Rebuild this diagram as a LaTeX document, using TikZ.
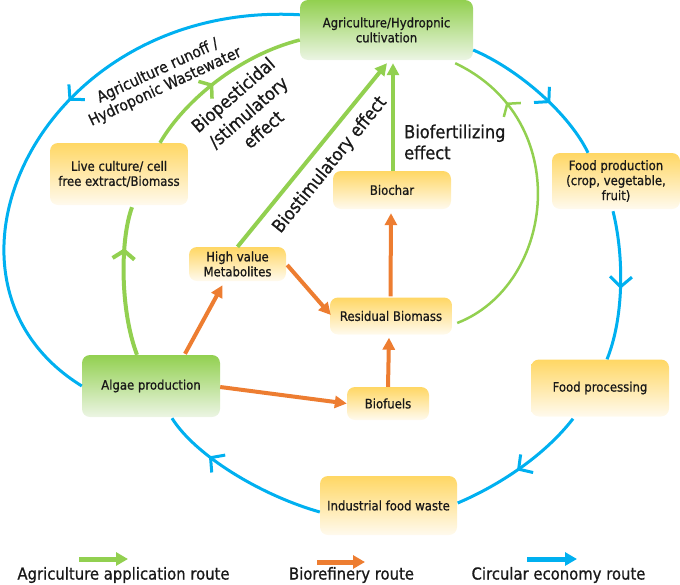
\documentclass[tikz,border=0pt]{standalone}
\usepackage{fontspec}
\setmainfont{DejaVu Sans Condensed}[FakeBold=0.8]
\usetikzlibrary{arrows.meta,decorations.markings,calc}
\definecolor{cgreen}{RGB}{146,208,80}
\definecolor{corange}{RGB}{237,125,49}
\definecolor{cblue}{RGB}{0,176,240}
\definecolor{ytop}{RGB}{255,215,100}
\definecolor{ybot}{RGB}{255,250,238}
\definecolor{gtop}{RGB}{146,208,80}
\definecolor{gbot}{RGB}{236,245,228}
\begin{document}
\begin{tikzpicture}[x=1pt,y=-1pt,
  box/.style={rounded corners=8pt, align=center, inner sep=0pt, text=black!90,
    font=\fontsize{13}{15}\selectfont},
  ybox/.style={box, top color=ytop, bottom color=ybot},
  gbox/.style={box, top color=gtop, bottom color=gbot},
  midbarb/.style 2 args={postaction={decorate}, decoration={markings,
    mark=at position #1 with {\arrow{Straight Barb[length=#2pt,width=22pt]}}}},
  bluearc/.style={cblue, line width=3pt},
  grnline/.style={cgreen, line width=4pt},
  orgarrow/.style={corange, line width=4pt, -{Triangle[length=12pt,width=12pt]}},
  grnarrow/.style={cgreen, line width=4pt, -{Triangle[length=12pt,width=12pt]}},
  lbl/.style={font=\fontsize{18}{23}\selectfont, text=black!90, align=center, inner sep=0pt},
  leg/.style={font=\fontsize{16.5}{19}\selectfont, text=black!90, inner sep=0pt}
]
\useasboundingbox (0,0) rectangle (680,584);

% nodes
\node[gbox, minimum width=173pt, minimum height=60pt] (agri) at (386.5,30) {Agriculture/Hydropnic\\cultivation};
\node[ybox, minimum width=138pt, minimum height=62pt] (live) at (119,174) {Live culture/ cell\\free extract/Biomass};
\node[ybox, minimum width=97pt, minimum height=34pt] (hvm) at (237.5,264) {High value\\Metabolites};
\node[ybox, minimum width=118pt, minimum height=38pt] (biochar) at (392,190) {Biochar};
\node[ybox, minimum width=122pt, minimum height=37pt] (residual) at (391,316) {Residual Biomass};
\node[gbox, minimum width=138pt, minimum height=62pt] (algae) at (151,386) {Algae production};
\node[ybox, minimum width=82pt, minimum height=33pt] (biofuels) at (388,403.5) {Biofuels};
\node[ybox, minimum width=128pt, minimum height=56pt] (foodprod) at (616,181) {Food production\\(crop, vegetable,\\fruit)};
\node[ybox, minimum width=138pt, minimum height=57pt] (foodproc) at (600,388) {Food processing};
\node[ybox, minimum width=137pt, minimum height=59pt] (ifw) at (388.5,505.5) {Industrial food waste};

% blue circular economy route
\draw[bluearc, midbarb={0.435}{10}] ($(agri.north west)+(0,15)$) .. controls (40,0) and (-90,280) .. (algae.west);
\draw[bluearc, midbarb={0.7}{10}] ($(ifw.west)+(0,6.5)$) .. controls (260,495) and (195,455) .. ($(algae.south)+(21,1)$);
\draw[bluearc, midbarb={0.53}{10}] ($(foodproc.south)+(-27,2)$) .. controls (545,455) and (500,485) .. ($(ifw.east)+(0.5,-2.5)$);
\draw[bluearc, midbarb={0.52}{10}] ($(foodprod.south)+(-3,2)$) .. controls (625,260) and (623,320) .. ($(foodproc.north)+(7,0)$);
\draw[bluearc, midbarb={0.6}{10}] ($(agri.east)+(0,20)$) .. controls (520,70) and (570,115) .. ($(foodprod.north)+(-28,0)$);

% green agriculture application route
\draw[grnline, midbarb={0.72}{8}] ($(algae.north)+(-14,0)$) .. controls (120,310) and (120,240) .. ($(live.south)+(13,2)$);
\draw[grnline, line width=3.5pt, midbarb={0.45}{8}] ($(live.north)+(41,0)$) .. controls (185,100) and (240,55) .. ($(agri.west)+(0,10)$);
\draw[grnarrow] (hvm.north) -- ($(agri.south)+(0.5,3)$);
\draw[grnarrow] ($(biochar.north)+(1,0)$) -- ($(agri.south)+(6.5,3)$);
\draw[grnline, line width=2.5pt, midbarb={0.8}{8}] ($(residual.east)+(5,7)$) .. controls (555,285) and (575,120) .. ($(agri.south east)+(-18,3)$);

% orange biorefinery route
\draw[orgarrow] ($(algae.north)+(34,-1)$) -- ($(hvm.south)+(-15,4)$);
\draw[orgarrow] ($(hvm.east)+(1,1)$) -- ($(residual.west)+(1,-1)$);
\draw[orgarrow] ($(algae.east)+(0,1)$) -- (biofuels.west);
\draw[orgarrow] (biofuels.north) -- ($(residual.south)+(-2,3)$);
\draw[orgarrow] ($(residual.north)+(-0.5,-1)$) -- ($(biochar.south)+(-1,4)$);

% labels
\node[lbl, font=\fontsize{15.5}{17.5}\selectfont, rotate=25] (runoff) at (161.5,79) {Agriculture runoff /\\Hydroponic Wastewater};
\node[lbl, rotate=41] (biopest) at (248,112) {Biopesticidal\\/stimulatory\\effect};
\node[lbl, rotate=51] (biostim) at (330,165) {Biostimulatory effect};
\node[lbl, align=left, anchor=west, font=\fontsize{18}{21}\selectfont] (biofert) at (404,142) {Biofertilizing\\effect};

% legend
\coordinate (lga1) at (79,559); \coordinate (lga2) at (128,559);
\coordinate (lgb1) at (317,562); \coordinate (lgb2) at (365,562);
\coordinate (lgc1) at (527,559); \coordinate (lgc2) at (577,559);
\draw[cgreen, line width=5pt, -{Triangle[length=12pt,width=13pt]}] (lga1) -- (lga2);
\draw[corange, line width=5pt, -{Triangle[length=12pt,width=13pt]}] (lgb1) -- (lgb2);
\draw[cblue, line width=5pt, -{Triangle[length=12pt,width=13pt]}] (lgc1) -- (lgc2);
\node[leg] (lega) at (123.5,575) {Agriculture application route};
\node[leg] (legb) at (351.5,575) {Biorefinery route};
\node[leg] (legc) at (558.5,575) {Circular economy route};
\end{tikzpicture}
\end{document}
